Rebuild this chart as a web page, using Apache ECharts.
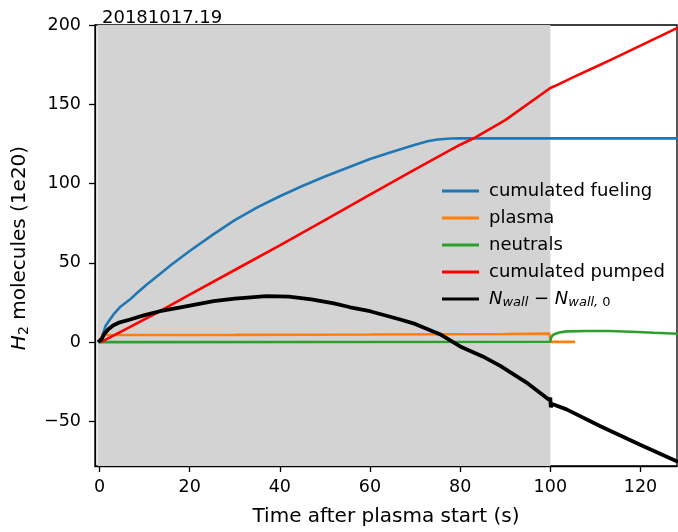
<!DOCTYPE html>
<html>
<head>
<meta charset="utf-8">
<script src="https://cdn.jsdelivr.net/npm/echarts@6/dist/echarts.min.js"></script>
<style>
  html, body { margin: 0; padding: 0; background: #fff; }
  #chart { width: 678px; height: 532px; }
</style>
</head>
<body>
<div id="chart"></div>
<script>
// Shot 20181017.19 — H2 particle balance during the discharge (units of 1e20 molecules)
const shotTitle = '20181017.19';
const xTicks = [0, 20, 40, 60, 80, 100, 120];
const yTicks = [-50, 0, 50, 100, 150, 200];
const heatingWindow = [-0.45, 100];

const fuelingT = [-0.4, 0, 0.5, 1, 1.3, 2, 3.1, 4.5, 6.8, 8.5, 10.5, 13.4, 16, 20, 25, 30, 35, 40, 45, 50, 55, 60, 65, 70, 73, 75, 78, 80, 90, 100, 110, 120, 128.3];
const fuelingV = [0, 0, 3, 7, 10, 13, 17.5, 22, 27, 31.5, 36.4, 43, 49, 57.5, 67.5, 77, 85, 92, 98.5, 104.5, 110, 115.5, 120, 124.5, 126.8, 127.8, 128.4, 128.5, 128.5, 128.5, 128.5, 128.5, 128.5];

const plasmaT = [-0.2, 0.3, 0.8, 1.5, 5, 30, 60, 90, 99.8, 100, 100.1, 105.5];
const plasmaV = [0, 2.5, 4.2, 4.5, 4.5, 4.6, 4.8, 5.1, 5.4, 5.8, 0.2, 0.2];

const neutralsT = [-0.2, 50, 100, 100.1, 100.5, 101, 102, 103.6, 108, 113, 118, 123, 128.3];
const neutralsV = [0, 0.1, 0.3, 2.5, 4.3, 5.2, 6.1, 6.8, 7.0, 7.0, 6.6, 5.9, 5.3];

const pumpedT = [0.3, 5, 13.4, 20, 30, 40, 50, 60, 70, 80, 82.9, 90, 100, 101, 105, 110, 113.4, 120, 128.3];
const pumpedV = [0, 7, 19.5, 30, 45.5, 61, 77, 93, 109, 124.5, 128.4, 140, 160.3, 161.5, 167, 173.5, 178, 187, 198.3];

const wallT = [-0.3, 0.5, 1, 1.9, 3, 4.5, 6.8, 10, 13.4, 18, 25.3, 30, 37, 42, 47, 52, 55.6, 60, 66.7, 70, 75.5, 80, 85, 88.9, 95, 99.8, 100, 100.1, 100.4, 103.6, 111, 119.8, 128.3];
const wallV = [0, 2, 5, 8, 10.5, 12.5, 14.3, 17, 19.5, 22, 25.8, 27.5, 29, 28.7, 27, 24.5, 22, 19.5, 14.3, 11.5, 5, -2.7, -9, -15, -26, -36.5, -35, -41, -39, -42.4, -52.9, -64.5, -75.4];

const pairs = (t, v) => t.map((x, i) => [x, v[i]]);

const font = 'DejaVu Sans';
const chart = echarts.init(document.getElementById('chart'));

function lineSeries(name, t, v, color, width, z) {
  return {
    name, type: 'line', data: pairs(t, v), showSymbol: false, symbol: 'none',
    lineStyle: { color, width }, itemStyle: { color }, z, animation: false
  };
}

chart.setOption({
  animation: false,
  textStyle: { fontFamily: font },
  title: {
    text: shotTitle, left: 97, top: 4,
    textStyle: { fontFamily: font, fontSize: 18, fontWeight: 'normal', color: '#000' }
  },
  grid: {
    left: 95, right: 1, top: 25, bottom: 65,
    show: true, borderColor: '#000', borderWidth: 1.3, backgroundColor: 'transparent'
  },
  legend: {
    orient: 'vertical', left: 437, top: 176,
    icon: 'rect', itemWidth: 37, itemHeight: 3, itemGap: 7,
    textStyle: {
      fontFamily: font, fontSize: 18, color: '#000', lineHeight: 20, padding: [0, 0, 0, 5],
      rich: {
        i: { fontFamily: font, fontSize: 18, fontStyle: 'italic', color: '#000' },
        s: { fontFamily: font, fontSize: 13, fontStyle: 'italic', color: '#000', padding: [8, 0, 0, 0] },
        d: { fontFamily: font, fontSize: 13, color: '#000', padding: [8, 0, 0, 0] },
        m: { fontFamily: font, fontSize: 18, color: '#000' }
      }
    },
    formatter: (name) => name === 'wall'
      ? '{i|N}{s|wall}{m| − }{i|N}{s|wall,}{d| 0}'
      : name,
    data: ['cumulated fueling', 'plasma', 'neutrals', 'cumulated pumped', 'wall']
  },
  graphic: [{
    type: 'text', x: 20, y: 248, rotation: Math.PI / 2, silent: true,
    style: {
      text: '{i|H}{s|2}{n| molecules (1e20)}',
      align: 'center', verticalAlign: 'middle',
      rich: {
        i: { fontFamily: font, fontSize: 20, fontStyle: 'italic', fill: '#000' },
        s: { fontFamily: font, fontSize: 14, fill: '#000', padding: [9, 0, 0, 0] },
        n: { fontFamily: font, fontSize: 20, fill: '#000' }
      }
    }
  }],
  xAxis: {
    type: 'value', min: -1, max: 128.1,
    name: 'Time after plasma start (s)', nameLocation: 'middle', nameGap: 41,
    nameTextStyle: { fontFamily: font, fontSize: 20, color: '#000' },
    axisLine: { show: true, onZero: false, lineStyle: { color: '#000', width: 1.3 } },
    axisTick: { show: true, length: 6, customValues: xTicks, lineStyle: { color: '#000', width: 1.3 } },
    axisLabel: { customValues: xTicks, margin: 12, fontFamily: font, fontSize: 17.5, color: '#000' },
    splitLine: { show: false }
  },
  yAxis: {
    type: 'value', min: -78.1, max: 200,
    axisLine: { show: true, onZero: false, lineStyle: { color: '#000', width: 1.3 } },
    axisTick: { show: true, length: 6, customValues: yTicks, lineStyle: { color: '#000', width: 1.3 } },
    axisLabel: {
      customValues: yTicks, margin: 14, fontFamily: font, fontSize: 17.5, color: '#000',
      formatter: (v) => String(v).replace('-', '\u2212')
    },
    splitLine: { show: false }
  },
  series: [
    {
      name: 'window', type: 'line', data: [], z: 0, silent: true,
      markArea: {
        silent: true,
        itemStyle: { color: '#d3d3d3' },
        data: [[{ xAxis: heatingWindow[0] }, { xAxis: heatingWindow[1] }]]
      }
    },
    lineSeries('cumulated fueling', fuelingT, fuelingV, '#1f77b4', 2.6, 3),
    lineSeries('plasma', plasmaT, plasmaV, '#ff7f0e', 2.6, 4),
    lineSeries('neutrals', neutralsT, neutralsV, '#2ca02c', 2.6, 5),
    lineSeries('cumulated pumped', pumpedT, pumpedV, '#ff0000', 2.6, 6),
    lineSeries('wall', wallT, wallV, '#000000', 3.8, 7)
  ]
});
</script>
</body>
</html>
